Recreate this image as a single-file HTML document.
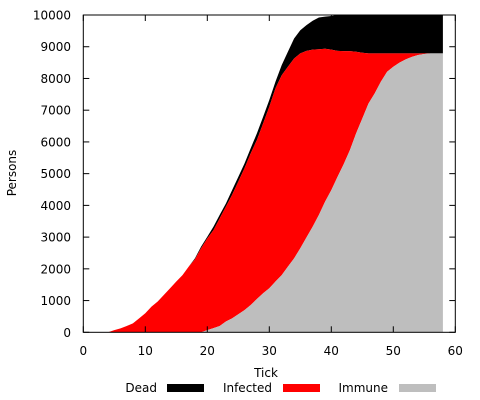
<!DOCTYPE html>
<html><head><meta charset="utf-8"><style>
html,body{margin:0;padding:0;background:#fff;}
svg{display:block;font-family:"DejaVu Sans","Liberation Sans",sans-serif;font-size:12px;}
</style></head><body>
<svg id="chart" width="480" height="400" viewBox="0 0 480 400" xmlns="http://www.w3.org/2000/svg">
<g id="areas"></g>
<rect x="83.3" y="15" width="372" height="317.3" fill="none" stroke="#000" stroke-width="1"/>
<g id="axes"></g>
<text x="266" y="377" text-anchor="middle">Tick</text>
<text transform="translate(16,173) rotate(-90)" text-anchor="middle">Persons</text>
<g>
<g><text x="157" y="392" text-anchor="end">Dead</text><rect x="167" y="384" width="37" height="8" fill="#000"/></g>
<g><text x="272" y="392" text-anchor="end">Infected</text><rect x="283" y="384" width="37" height="8" fill="#ff0000"/></g>
<g><text x="388" y="392" text-anchor="end">Immune</text><rect x="399" y="384" width="37" height="8" fill="#bebebe"/></g>
</g>
</svg>
<script>
const ticks = [];
for (let i = 0; i <= 58; i++) ticks.push(i);
const immune = [0,0,0,0,0,0,0,0,0,0,0,0,0,0,0,0,0,0,0,0,70,130,200,340,440,570,700,860,1050,1230,1390,1600,1800,2070,2330,2650,2990,3330,3700,4120,4480,4900,5300,5740,6270,6740,7210,7530,7900,8210,8370,8500,8600,8680,8740,8770,8790,8790,8790];
const infected = [0,0,0,0,0,70,125,200,280,440,600,810,970,1180,1390,1600,1800,2070,2300,2650,2890,3090,3390,3620,3890,4180,4470,4780,5010,5350,5720,6090,6300,6300,6300,6140,5880,5580,5220,4815,4430,3970,3560,3120,2570,2070,1580,1260,890,580,420,290,190,110,50,20,0,0,0];
const dead = [0,0,0,0,0,0,0,0,0,0,0,0,0,0,0,0,0,0,30,50,50,110,110,100,150,150,150,160,210,210,210,210,320,470,630,730,810,910,1000,1015,1060,1130,1140,1140,1160,1190,1210,1210,1210,1210,1210,1210,1210,1210,1210,1210,1210,1210,1210];
const xTicks = [0,10,20,30,40,50,60];
const yTicks = [0,1000,2000,3000,4000,5000,6000,7000,8000,9000,10000];

const NS = "http://www.w3.org/2000/svg";
const X0 = 83.3, X1 = 455.3, Y0 = 332.3, Y1 = 15;
function xs(v){ return X0 + (v - 0) / 60 * (X1 - X0); }
function ys(v){ return Y0 - v / 10000 * (Y0 - Y1); }

const areas = document.getElementById('areas');
function band(lower, upper, color, name){
  let pts = [];
  for (let i = 0; i < ticks.length; i++) pts.push(xs(ticks[i]) + ',' + ys(upper[i]));
  for (let i = ticks.length - 1; i >= 0; i--) pts.push(xs(ticks[i]) + ',' + ys(lower[i]));
  const p = document.createElementNS(NS, 'polygon');
  p.setAttribute('points', pts.join(' '));
  p.setAttribute('fill', color);
  
  
  areas.appendChild(p);
}
const zero = ticks.map(() => 0);
const s1 = immune.slice();
const s2 = immune.map((v, i) => v + infected[i]);
const s3 = s2.map((v, i) => v + dead[i]);
band(s2, s3, '#000000', 'dead-area');
band(s1, s2, '#ff0000', 'infected-area');
band(zero, s1, '#bebebe', 'immune-area');

const axes = document.getElementById('axes');
xTicks.forEach(t => {
  const x = xs(t);
  [[Y0, Y0 - 6], [Y1, Y1 + 6]].forEach(([a, b]) => {
    const l = document.createElementNS(NS, 'line');
    l.setAttribute('x1', x); l.setAttribute('x2', x); l.setAttribute('y1', a); l.setAttribute('y2', b);
    l.setAttribute('stroke', '#000');
    
    
    axes.appendChild(l);
  });
  const tx = document.createElementNS(NS, 'text');
  tx.setAttribute('x', x); tx.setAttribute('y', 355); tx.setAttribute('text-anchor', 'middle');
  tx.textContent = t;
  
  
  axes.appendChild(tx);
});
yTicks.forEach(t => {
  const y = ys(t);
  [[X0, X0 + 6], [X1, X1 - 6]].forEach(([a, b]) => {
    const l = document.createElementNS(NS, 'line');
    l.setAttribute('x1', a); l.setAttribute('x2', b); l.setAttribute('y1', y); l.setAttribute('y2', y);
    l.setAttribute('stroke', '#000');
    
    
    axes.appendChild(l);
  });
  const tx = document.createElementNS(NS, 'text');
  tx.setAttribute('x', 71); tx.setAttribute('y', y + 4.5); tx.setAttribute('text-anchor', 'end');
  tx.textContent = t;
  
  
  axes.appendChild(tx);
});
</script>
</body></html>
